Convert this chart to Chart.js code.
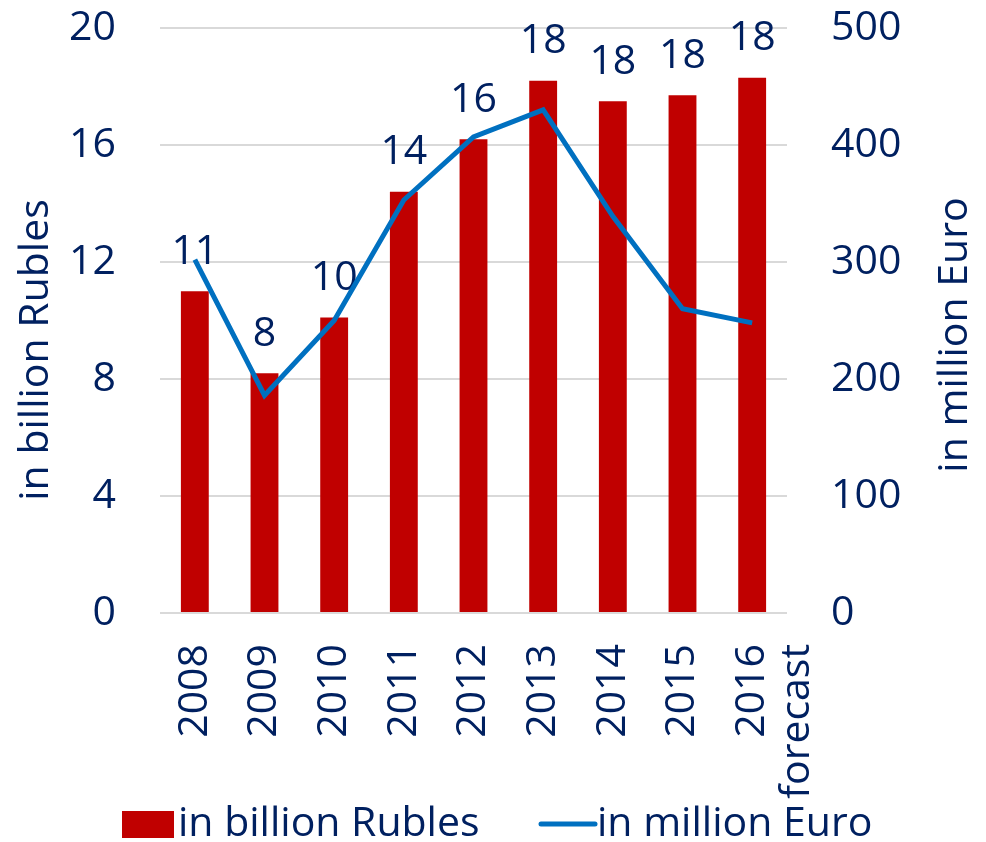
<!DOCTYPE html>
<html>
<head>
<meta charset="utf-8">
<script src="https://cdn.jsdelivr.net/npm/chart.js@4.4.1/dist/chart.umd.min.js"></script>
<style>
  html, body { margin: 0; padding: 0; background: #ffffff; }
  #wrap { width: 986px; height: 842px; position: relative; }
</style>
</head>
<body>
<div id="wrap"><canvas id="c" width="986" height="842"></canvas></div>
<script>
const categories = ['2008', '2009', '2010', '2011', '2012', '2013', '2014', '2015', ['2016', 'forecast']];
const rublesBillion = [11.0, 8.2, 10.1, 14.4, 16.2, 18.2, 17.5, 17.7, 18.3];
const euroMillion = [302, 186, 250, 353, 407, 430, 339, 260, 248];
const leftTicks = [0, 4, 8, 12, 16, 20];
const rightTicks = [0, 100, 200, 300, 400, 500];
const seriesNames = ['in billion Rubles', 'in million Euro'];
const leftTitle = 'in billion Rubles';
const rightTitle = 'in million Euro';

const TEXT = '#002060';
const RED = '#C00000';
const BLUE = '#0070C0';
const FONT_FAMILY = '"Open Sans", Lato, sans-serif';
const FS = 41;

const overlay = {
  id: 'overlay',
  beforeDatasetsDraw(chart) {
    const ctx = chart.ctx;
    const meta = chart.getDatasetMeta(1);
    ctx.save();
    ctx.font = FS + 'px ' + FONT_FAMILY;
    ctx.fillStyle = TEXT;
    ctx.textAlign = 'center';
    ctx.textBaseline = 'middle';
    meta.data.forEach((bar, i) => {
      ctx.fillText(String(Math.round(rublesBillion[i])), bar.x, bar.y - 39);
    });
    ctx.restore();
  },
  afterDraw(chart) {
    const ctx = chart.ctx;
    ctx.save();
    ctx.font = FS + 'px ' + FONT_FAMILY;
    ctx.fillStyle = TEXT;
    ctx.textBaseline = 'middle';
    // axis titles
    ctx.save();
    ctx.translate(36, 350);
    ctx.rotate(-Math.PI / 2);
    ctx.textAlign = 'center';
    ctx.fillText(leftTitle, 0, 0);
    ctx.restore();
    ctx.save();
    ctx.translate(955, 335);
    ctx.rotate(-Math.PI / 2);
    ctx.textAlign = 'center';
    ctx.fillText(rightTitle, 0, 0);
    ctx.restore();
    // legend
    const ly = 824;
    ctx.textAlign = 'left';
    ctx.fillStyle = RED;
    ctx.fillRect(122, ly - 13, 52, 27);
    ctx.fillStyle = TEXT;
    ctx.fillText(seriesNames[0], 178, ly);
    ctx.strokeStyle = BLUE;
    ctx.lineWidth = 5;
    ctx.lineCap = 'round';
    ctx.beginPath();
    ctx.moveTo(541, ly);
    ctx.lineTo(595, ly);
    ctx.stroke();
    ctx.fillText(seriesNames[1], 597, ly);
    ctx.restore();
  }
};

new Chart(document.getElementById('c'), {
  data: {
    labels: categories,
    datasets: [
      {
        type: 'line',
        label: seriesNames[1],
        data: euroMillion,
        yAxisID: 'y1',
        borderColor: BLUE,
        backgroundColor: BLUE,
        borderWidth: 5,
        pointRadius: 0,
        tension: 0,
        order: 0
      },
      {
        type: 'bar',
        label: seriesNames[0],
        data: rublesBillion,
        yAxisID: 'y',
        backgroundColor: RED,
        borderWidth: 0,
        barPercentage: 0.4,
        categoryPercentage: 1.0,
        order: 1
      }
    ]
  },
  options: {
    responsive: false,
    animation: false,
    devicePixelRatio: 1,
    layout: { padding: { top: 28, left: 0, right: 0, bottom: 0 } },
    plugins: {
      legend: { display: false },
      tooltip: { enabled: false }
    },
    scales: {
      x: {
        type: 'category',
        offset: true,
        grid: { display: false, drawTicks: false },
        border: { display: false },
        ticks: {
          color: TEXT,
          font: { family: FONT_FAMILY, size: FS, lineHeight: 1.1 },
          minRotation: 90,
          maxRotation: 90,
          autoSkip: false,
          padding: 31
        },
        afterFit(scale) { scale.height = 842 - 613; }
      },
      y: {
        position: 'left',
        min: 0,
        max: 20,
        afterBuildTicks(scale) { scale.ticks = leftTicks.map(v => ({ value: v })); },
        grid: { color: '#D9D9D9', lineWidth: 2, drawTicks: true, tickLength: 44, tickColor: 'rgba(0,0,0,0)' },
        border: { display: false },
        ticks: {
          color: TEXT,
          font: { family: FONT_FAMILY, size: FS },
          padding: 0
        },
        afterFit(scale) { scale.width = 160; }
      },
      y1: {
        position: 'right',
        min: 0,
        max: 500,
        afterBuildTicks(scale) { scale.ticks = rightTicks.map(v => ({ value: v })); },
        grid: { display: true, drawOnChartArea: false, drawTicks: true, tickLength: 44, color: 'rgba(0,0,0,0)', tickColor: 'rgba(0,0,0,0)' },
        border: { display: false },
        ticks: {
          color: TEXT,
          font: { family: FONT_FAMILY, size: FS },
          padding: 0
        },
        afterFit(scale) { scale.width = 986 - 787; }
      }
    }
  },
  plugins: [overlay]
});
</script>
</body>
</html>
